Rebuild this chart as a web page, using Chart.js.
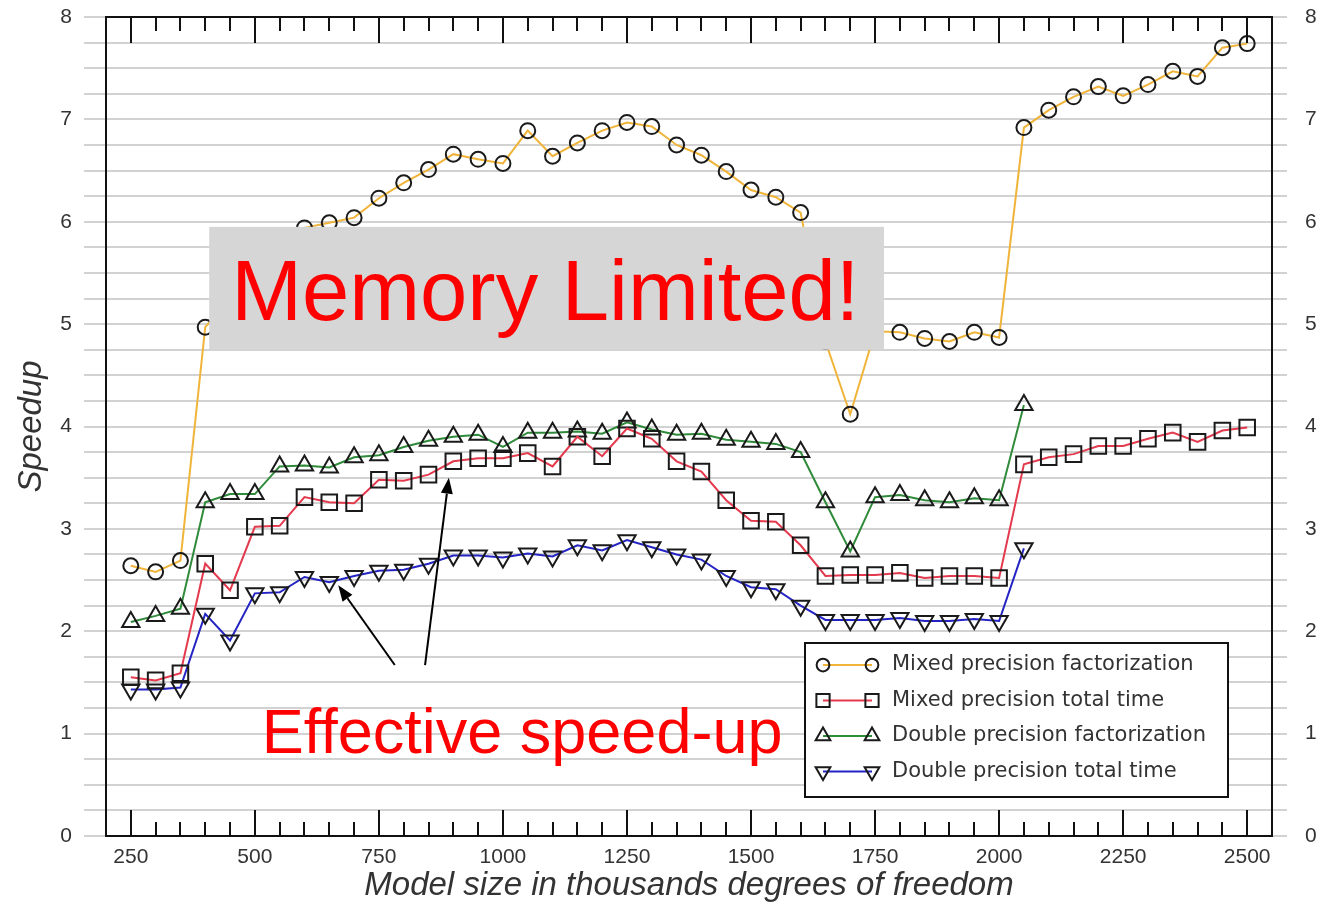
<!DOCTYPE html>
<html>
<head>
<meta charset="utf-8">
<script src="https://cdn.jsdelivr.net/npm/chart.js@4/dist/chart.umd.min.js"></script>
<style>
  html, body { margin: 0; padding: 0; background: #fff; }
  #wrap { width: 1322px; height: 906px; position: relative; }
</style>
</head>
<body>
<div id="wrap"><canvas id="speedupChart"></canvas></div>
<script>
// Model size (thousands of DOF)
const modelSizes = [250, 300, 350, 400, 450, 500, 550, 600, 650, 700,
    750, 800, 850, 900, 950, 1000, 1050, 1100, 1150, 1200,
    1250, 1300, 1350, 1400, 1450, 1500, 1550, 1600, 1650, 1700,
    1750, 1800, 1850, 1900, 1950, 2000, 2050, 2100, 2150, 2200,
    2250, 2300, 2350, 2400, 2450, 2500];

const mixedFactorization = [2.64, 2.58, 2.69, 4.97, 5.25, 5.55, 5.80, 5.94, 5.99, 6.04,
    6.23, 6.38, 6.51, 6.66, 6.61, 6.57, 6.89, 6.64, 6.77, 6.89,
    6.97, 6.93, 6.75, 6.65, 6.49, 6.31, 6.24, 6.09, 4.83, 4.12,
    4.93, 4.92, 4.86, 4.83, 4.92, 4.87, 6.92, 7.09, 7.22, 7.32,
    7.23, 7.34, 7.47, 7.42, 7.70, 7.74];

const mixedTotal = [1.55, 1.52, 1.59, 2.66, 2.40, 3.02, 3.03, 3.31, 3.26, 3.25,
    3.48, 3.47, 3.53, 3.66, 3.69, 3.69, 3.74, 3.61, 3.90, 3.71,
    3.98, 3.88, 3.66, 3.56, 3.28, 3.08, 3.07, 2.84, 2.54, 2.55,
    2.55, 2.57, 2.52, 2.54, 2.54, 2.52, 3.63, 3.70, 3.73, 3.81,
    3.81, 3.88, 3.94, 3.85, 3.96, 3.99];

// double precision runs stop at 2050
const doubleFactorization = [2.09, 2.15, 2.22, 3.26, 3.34, 3.34, 3.61, 3.62, 3.60, 3.70,
    3.72, 3.80, 3.86, 3.90, 3.92, 3.80, 3.94, 3.94, 3.95, 3.93,
    4.04, 3.97, 3.92, 3.93, 3.87, 3.85, 3.83, 3.75, 3.26, 2.78,
    3.31, 3.33, 3.28, 3.26, 3.30, 3.28, 4.21];

const doubleTotal = [1.43, 1.43, 1.45, 2.17, 1.91, 2.37, 2.38, 2.53, 2.48, 2.54,
    2.59, 2.60, 2.66, 2.74, 2.74, 2.72, 2.76, 2.73, 2.84, 2.79,
    2.89, 2.82, 2.75, 2.70, 2.54, 2.43, 2.41, 2.25, 2.11, 2.11,
    2.11, 2.13, 2.10, 2.10, 2.12, 2.10, 2.81];

const seriesLabels = [
    'Mixed precision factorization',
    'Mixed precision total time',
    'Double precision factorization',
    'Double precision total time'
];

const xTickLabels = [250, 500, 750, 1000, 1250, 1500, 1750, 2000, 2250, 2500];
const yTickLabels = [0, 1, 2, 3, 4, 5, 6, 7, 8];

const SANS = '"Liberation Sans", Arial, sans-serif';
const LEGEND_FONT = '"DejaVu Sans", Verdana, sans-serif';
const TEXT_COLOR = '#333333';
const GRID_COLOR = '#d2d2d2';

function toPoints(values) {
    return values.map((y, i) => ({ x: modelSizes[i], y }));
}

function makeDataset(label, values, color, style, radius, rotation) {
    return {
        label,
        data: toPoints(values),
        borderColor: color,
        borderWidth: 2,
        pointStyle: style,
        pointRadius: radius,
        pointRotation: rotation || 0,
        pointBorderColor: '#1a1a1a',
        pointBorderWidth: 2,
        pointBackgroundColor: 'rgba(0,0,0,0)',
        tension: 0
    };
}

// Annotations, anchored in data coordinates
const memoryBox = { x1: 408, x2: 1768, yTop: 5.95, yBottom: 4.75, text: 'Memory Limited!' };
const effectiveText = { x: 514, y: 0.81, text: 'Effective speed-up' };
const arrows = [
    { from: [782, 1.67], to: [668, 2.45] },
    { from: [843, 1.67], to: [891, 3.50] }
];

// keep the plot box fixed: no extra room for label overhang
function fixSize(prop, size) {
    return scale => {
        scale[prop] = size;
        scale.paddingTop = 0;
        scale.paddingBottom = 0;
        scale.paddingLeft = 0;
        scale.paddingRight = 0;
    };
}

// Frame + inward ticks on top and bottom
const framePlugin = {
    id: 'frame',
    afterDraw(chart) {
        const { ctx, chartArea: a, scales } = chart;
        const xs = scales.x;
        ctx.save();
        ctx.strokeStyle = '#111';
        ctx.lineWidth = 2;
        ctx.strokeRect(a.left, a.top, a.right - a.left, a.bottom - a.top);
        xs.ticks.forEach(t => {
            if (t.value < 250 || t.value > 2500) return;
            const px = Math.round(xs.getPixelForValue(t.value));
            const len = t.value % 250 === 0 ? 26 : 14;
            ctx.beginPath();
            ctx.moveTo(px, a.top);
            ctx.lineTo(px, a.top + len);
            ctx.moveTo(px, a.bottom);
            ctx.lineTo(px, a.bottom - len);
            ctx.stroke();
        });
        ctx.restore();
    }
};

const annotationPlugin = {
    id: 'notes',
    afterDatasetsDraw(chart) {
        const { ctx, scales: { x, y } } = chart;
        ctx.save();

        // grey "Memory Limited!" box
        const bx1 = x.getPixelForValue(memoryBox.x1);
        const bx2 = x.getPixelForValue(memoryBox.x2);
        const by1 = y.getPixelForValue(memoryBox.yTop);
        const by2 = y.getPixelForValue(memoryBox.yBottom);
        ctx.fillStyle = '#d6d6d6';
        ctx.fillRect(bx1, by1, bx2 - bx1, by2 - by1);
        ctx.fillStyle = '#ff0000';
        ctx.font = '85px ' + SANS;
        ctx.textBaseline = 'alphabetic';
        ctx.textAlign = 'left';
        ctx.fillText(memoryBox.text, bx1 + 22, by2 - 30);

        // arrows
        ctx.strokeStyle = '#000';
        ctx.fillStyle = '#000';
        ctx.lineWidth = 2;
        arrows.forEach(ar => {
            const x1 = x.getPixelForValue(ar.from[0]), y1 = y.getPixelForValue(ar.from[1]);
            const x2 = x.getPixelForValue(ar.to[0]), y2 = y.getPixelForValue(ar.to[1]);
            const ang = Math.atan2(y2 - y1, x2 - x1);
            const head = 16, half = 6;
            const bxp = x2 - head * Math.cos(ang), byp = y2 - head * Math.sin(ang);
            ctx.beginPath();
            ctx.moveTo(x1, y1);
            ctx.lineTo(bxp, byp);
            ctx.stroke();
            ctx.beginPath();
            ctx.moveTo(x2, y2);
            ctx.lineTo(bxp + half * Math.sin(ang), byp - half * Math.cos(ang));
            ctx.lineTo(bxp - half * Math.sin(ang), byp + half * Math.cos(ang));
            ctx.closePath();
            ctx.fill();
        });

        // effective speed-up label
        ctx.fillStyle = '#ff0000';
        ctx.font = '63px ' + SANS;
        ctx.fillText(effectiveText.text, x.getPixelForValue(effectiveText.x), y.getPixelForValue(effectiveText.y));

        // legend box
        const lx = 805, ly = 643, lw = 423, lh = 154;
        ctx.fillStyle = '#fff';
        ctx.fillRect(lx, ly, lw, lh);
        ctx.strokeStyle = '#111';
        ctx.lineWidth = 2;
        ctx.strokeRect(lx, ly, lw, lh);
        ctx.font = '21px ' + LEGEND_FONT;
        ctx.textBaseline = 'middle';
        chart.data.datasets.forEach((ds, i) => {
            const rowY = ly + 22 + i * 35.5;
            ctx.strokeStyle = ds.borderColor;
            ctx.lineWidth = 2;
            ctx.beginPath();
            ctx.moveTo(823, rowY);
            ctx.lineTo(872, rowY);
            ctx.stroke();
            [823, 872].forEach(mx => {
                ctx.strokeStyle = ds.pointBorderColor;
                ctx.fillStyle = 'rgba(0,0,0,0)';
                Chart.helpers.drawPoint(ctx, {
                    pointStyle: ds.pointStyle,
                    radius: ds.pointRadius * 0.85,
                    rotation: ds.pointRotation,
                    borderWidth: 1.5
                }, mx, rowY);
            });
            ctx.fillStyle = TEXT_COLOR;
            ctx.fillText(ds.label, 892, rowY);
        });

        ctx.restore();
    }
};

const isWhole = v => Math.abs(v - Math.round(v)) < 1e-6;
const yLabel = v => (isWhole(v) && yTickLabels.includes(Math.round(v))) ? String(Math.round(v)) : '';

new Chart(document.getElementById('speedupChart'), {
    type: 'line',
    data: {
        datasets: [
            makeDataset(seriesLabels[0], mixedFactorization, '#f0b43a', 'circle', 7.5),
            makeDataset(seriesLabels[1], mixedTotal, '#e43a4e', 'rect', 11),
            makeDataset(seriesLabels[2], doubleFactorization, '#2f8a3a', 'triangle', 10),
            makeDataset(seriesLabels[3], doubleTotal, '#2424c4', 'triangle', 10, 180)
        ]
    },
    options: {
        responsive: true,
        maintainAspectRatio: false,
        animation: false,
        layout: { padding: { top: 17, left: 0, right: 0, bottom: 0 } },
        plugins: {
            legend: { display: false },
            tooltip: { enabled: false }
        },
        scales: {
            x: {
                type: 'linear',
                min: 200,
                max: 2550,
                afterFit: fixSize('height', 70),
                grid: { display: false, drawTicks: false },
                border: { display: false },
                ticks: {
                    stepSize: 50,
                    autoSkip: false,
                    maxRotation: 0,
                    padding: 9,
                    color: TEXT_COLOR,
                    font: { family: SANS, size: 21 },
                    callback: v => xTickLabels.includes(v) ? String(v) : ''
                },
                title: {
                    display: true,
                    text: 'Model size in thousands degrees of freedom',
                    color: TEXT_COLOR,
                    font: { family: SANS, size: 33, style: 'italic' },
                    padding: { top: 0, bottom: 0 }
                }
            },
            y: {
                position: 'left',
                min: 0,
                max: 8,
                afterFit: fixSize('width', 106),
                grid: { color: GRID_COLOR, lineWidth: 2, tickLength: 22, drawTicks: true },
                border: { display: false },
                ticks: {
                    stepSize: 0.25,
                    autoSkip: false,
                    padding: 12,
                    color: TEXT_COLOR,
                    font: { family: SANS, size: 21 },
                    callback: yLabel
                },
                title: {
                    display: true,
                    text: 'Speedup',
                    color: TEXT_COLOR,
                    font: { family: SANS, size: 33, style: 'italic' },
                    padding: { top: 12, bottom: 0 }
                }
            },
            y2: {
                position: 'right',
                min: 0,
                max: 8,
                afterFit: fixSize('width', 50),
                grid: { color: GRID_COLOR, lineWidth: 2, tickLength: 15, drawOnChartArea: false, drawTicks: true },
                border: { display: false },
                ticks: {
                    stepSize: 0.25,
                    autoSkip: false,
                    padding: 18,
                    color: TEXT_COLOR,
                    font: { family: SANS, size: 21 },
                    callback: yLabel
                }
            }
        }
    },
    plugins: [annotationPlugin, framePlugin]
});
</script>
</body>
</html>
